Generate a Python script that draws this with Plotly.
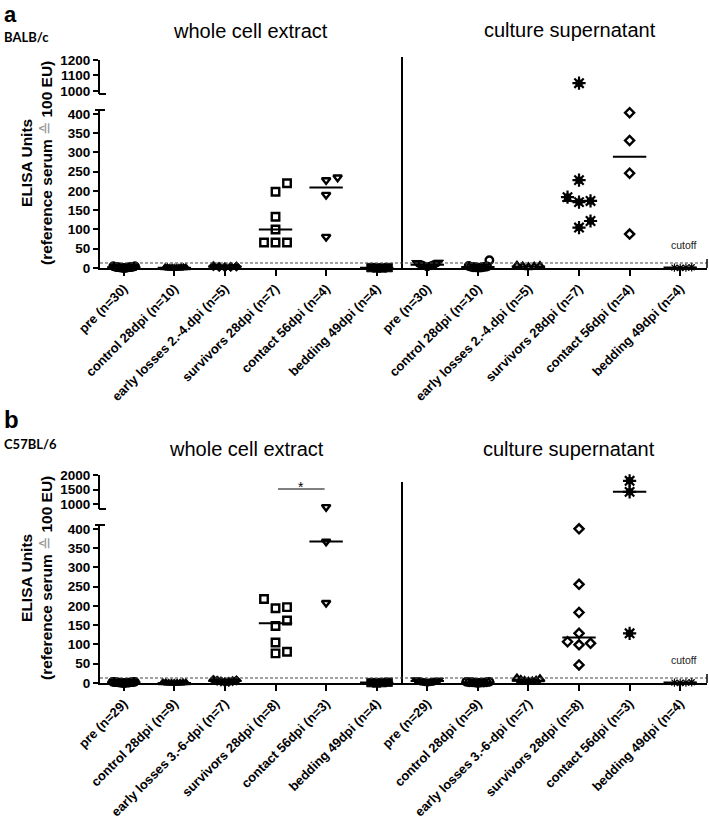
import numpy as np
import plotly.graph_objects as go

W, H = 709, 832

# ---------------- data ----------------
labels_a = ["pre (n=30)", "control 28dpi (n=10)", "early losses 2.-4.dpi (n=5)",
            "survivors 28dpi (n=7)", "contact 56dpi (n=4)", "bedding 49dpi (n=4)"]
labels_b = ["pre (n=29)", "control 28dpi (n=9)", "early losses 3.-6-dpi (n=7)",
            "survivors 28dpi (n=8)", "contact 56dpi (n=3)", "bedding 49dpi (n=4)"]

# Panel a (BALB/c) - whole cell extract
a_wce_pre = [2, 1, 3, 0, 4, 2, 1, 5, 3, 2, 0, 1, 4, 2, 3, 1, 4, 0, 2, 3, 1, 2, 5, 0, 3, 1, 2, 4, 1, 2]
a_wce_control = [0, 1, 0, 1, 1, 0, 1, 0, 1, 0]
a_wce_early = [3, 4, 2, 5, 3]
a_wce_survivors = [220, 198, 133, 100, 66, 66, 66]
a_wce_contact = [235, 228, 190, 81]
a_wce_bedding = [1, 0, 1, 0]
# Panel a (BALB/c) - culture supernatant
a_cs_pre = [8, 12, 5, 14, 3, 10, 7, 13, 6, 9, 11, 4, 15, 8, 2, 12, 6, 10, 13, 5, 9, 7, 14, 3, 11, 8, 6, 12, 4, 10]
a_cs_control = [20, 3, 2, 4, 1, 3, 2, 5, 1, 2]
a_cs_early = [6, 3, 5, 2, 4]
a_cs_survivors = [1050, 228, 184, 174, 171, 122, 105]
a_cs_contact = [403, 331, 246, 88]
a_cs_bedding = [1, 0, 2, 1]

# Panel b (C57BL/6) - whole cell extract
b_wce_pre = [2, 1, 3, 0, 2, 1, 3, 2, 0, 1, 2, 3, 1, 0, 2, 1, 3, 2, 1, 0, 2, 3, 1, 2, 0, 1, 3, 2, 1]
b_wce_control = [0, 1, 0, 1, 0, 1, 0, 1, 0]
b_wce_early = [5, 8, 3, 6, 2, 7, 4]
b_wce_survivors = [218, 197, 194, 162, 148, 105, 81, 77]
b_wce_contact = [900, 367, 208]
b_wce_bedding = [1, 2, 1, 0]
# Panel b (C57BL/6) - culture supernatant
b_cs_pre = [4, 6, 3, 7, 5, 2, 6, 4, 8, 3, 5, 7, 4, 6, 2, 5, 3, 6, 4, 7, 5, 3, 6, 4, 2, 5, 7, 3, 4]
b_cs_control = [2, 1, 3, 0, 2, 1, 3, 2, 1]
b_cs_early = [12, 8, 5, 3, 10, 6, 4]
b_cs_survivors = [400, 256, 183, 129, 107, 103, 99, 47]
b_cs_contact = [1800, 1420, 129]
b_cs_bedding = [1, 0, 2, 1]

cutoff = 13

groups_a = [a_wce_pre, a_wce_control, a_wce_early, a_wce_survivors, a_wce_contact, a_wce_bedding,
            a_cs_pre, a_cs_control, a_cs_early, a_cs_survivors, a_cs_contact, a_cs_bedding]
groups_b = [b_wce_pre, b_wce_control, b_wce_early, b_wce_survivors, b_wce_contact, b_wce_bedding,
            b_cs_pre, b_cs_control, b_cs_early, b_cs_survivors, b_cs_contact, b_cs_bedding]

# ---------------- styles ----------------
syms_a = ["circle", "triangle-up", "diamond", "square-open", "triangle-down-open", "square",
          "triangle-down", "circle-open", "triangle-up-open", "STAR", "diamond-open", "SMALLSTAR"]
syms_b = ["circle", "triangle-up", "diamond", "square-open", "triangle-down-open", "square",
          "triangle-down", "circle-open", "triangle-up-open", "diamond-open", "STAR", "SMALLSTAR"]
sizes = {"circle": 8.5, "triangle-up": 8.5, "diamond": 7.5, "square": 8.5, "triangle-down": 8.5,
         "square-open": 7.5, "triangle-down-open": 7.5, "circle-open": 7.5, "triangle-up-open": 7.5,
         "diamond-open": 7}

X0, X1 = 100, 707
XR = [-0.47, 11.53]
XS = (X1 - X0) / 12.0

panels = {
    "a": dict(zero=268, top=110, up_lo=94, up_hi=60, up_range=[980, 1200],
              up_ticks=[1000, 1100, 1200], xa="x", ylo="y", yhi="y2", groups=groups_a, syms=syms_a,
              labels=labels_a),
    "b": dict(zero=683, top=525, up_lo=509, up_hi=475, up_range=[830, 2000],
              up_ticks=[1000, 1500, 2000], xa="x2", ylo="y3", yhi="y4", groups=groups_b, syms=syms_b,
              labels=labels_b),
}
LOW_MAX = 410


def to_px(v, P):
    if v <= LOW_MAX:
        return P["zero"] - v * (P["zero"] - P["top"]) / LOW_MAX
    r0, r1 = P["up_range"]
    return P["up_lo"] - (v - r0) * (P["up_lo"] - P["up_hi"]) / (r1 - r0)


def swarm(pys, d=11.5, thr=10.0, cap=11.5):
    order = sorted(range(len(pys)), key=lambda i: -pys[i])
    placed, offs = [], [0.0] * len(pys)
    for i in order:
        k = 0
        found = None
        while found is None:
            cands = [0.0] if k == 0 else [k * d, -k * d]
            for c in cands:
                if all((c - px) ** 2 + (pys[i] - py) ** 2 >= thr ** 2 for px, py in placed):
                    found = c
                    break
            k += 1
        offs[i] = found
        placed.append((found, pys[i]))
    m = max(abs(o) for o in offs) if offs else 0
    if m > cap:
        offs = [o * cap / m for o in offs]
    return [o / XS for o in offs]


fig = go.Figure()


def add_markers(xs, ys, sym, xa, ya):
    common = dict(x=xs, y=ys, mode="markers", xaxis=xa, yaxis=ya, showlegend=False,
                  cliponaxis=False, hoverinfo="skip")
    if sym == "STAR":
        fig.add_trace(go.Scatter(**common, marker=dict(symbol="circle", size=7.5, color="black",
                                                       line=dict(width=0))))
        fig.add_trace(go.Scatter(**common, marker=dict(symbol="asterisk-open", size=11, color="black",
                                                       line=dict(width=2.2, color="black"))))
    elif sym == "SMALLSTAR":
        fig.add_trace(go.Scatter(**common, marker=dict(symbol="asterisk-open", size=7, color="black",
                                                       line=dict(width=1.2, color="black"))))
    elif sym.endswith("-open"):
        fig.add_trace(go.Scatter(**common, marker=dict(symbol=sym, size=sizes[sym], color="black",
                                                       line=dict(width=2.4, color="black"))))
    else:
        fig.add_trace(go.Scatter(**common, marker=dict(symbol=sym, size=sizes[sym], color="black",
                                                       line=dict(width=0.8, color="black"))))


for key, P in panels.items():
    for ci, vals in enumerate(P["groups"]):
        pys = [to_px(v, P) for v in vals]
        offs = swarm(pys, d=9.0 if P["syms"][ci] == "SMALLSTAR" else 11.5)
        lo_x, lo_y, hi_x, hi_y = [], [], [], []
        for v, o in zip(vals, offs):
            if v <= LOW_MAX:
                lo_x.append(ci + o); lo_y.append(v)
            else:
                hi_x.append(ci + o); hi_y.append(v)
        if lo_x:
            add_markers(lo_x, lo_y, P["syms"][ci], P["xa"], P["ylo"])
        if hi_x:
            add_markers(hi_x, hi_y, P["syms"][ci], P["xa"], P["yhi"])
    # median lines
    for ci, vals in enumerate(P["groups"]):
        med = float(np.median(vals))
        ya = P["ylo"] if med <= LOW_MAX else P["yhi"]
        fig.add_trace(go.Scatter(x=[ci - 0.33, ci + 0.33], y=[med, med], mode="lines",
                                 xaxis=P["xa"], yaxis=ya, showlegend=False, cliponaxis=False,
                                 hoverinfo="skip", line=dict(color="black", width=2)))


def py(p):
    return 1 - p / H


def pxx(p):
    return p / W


FONT = "Liberation Sans, Arial, sans-serif"
tickfont = dict(family=FONT, size=13.5, color="black", weight="bold")
axbase = dict(showline=True, linewidth=2, linecolor="black", ticks="outside", tickwidth=2,
              tickcolor="black", showgrid=False, zeroline=False, fixedrange=True, automargin=False)

layout = dict(template="none", width=W, height=H, margin=dict(l=0, r=0, t=0, b=0, pad=0),
              paper_bgcolor="white", plot_bgcolor="white", showlegend=False,
              font=dict(family=FONT, color="black"))

shapes, annotations = [], []
for key, P in panels.items():
    xname = "xaxis" if P["xa"] == "x" else "xaxis2"
    loname = "yaxis" if P["ylo"] == "y" else "yaxis3"
    hiname = "yaxis2" if P["yhi"] == "y2" else "yaxis4"
    layout[xname] = dict(axbase, domain=[pxx(X0), pxx(X1)], range=XR, anchor=P["ylo"],
                         tickmode="array", tickvals=list(range(12)), ticktext=P["labels"] * 2,
                         tickangle=-45, ticklen=6,
                         tickfont=dict(family=FONT, size=13, color="black", weight="bold"))
    layout[loname] = dict(axbase, domain=[py(P["zero"]), py(P["top"])], range=[0, LOW_MAX],
                          anchor=P["xa"], tickmode="array", tickvals=list(range(0, 401, 50)),
                          ticktext=[str(t) for t in range(0, 401, 50)], ticklen=5, tickfont=tickfont)
    layout[hiname] = dict(axbase, domain=[py(P["up_lo"]), py(P["up_hi"])], range=P["up_range"],
                          anchor=P["xa"], tickmode="array", tickvals=P["up_ticks"],
                          ticktext=[str(t) for t in P["up_ticks"]], ticklen=5, tickfont=tickfont)
    # axis break caps
    shapes.append(dict(type="line", xref="paper", yref="paper", x0=pxx(X0 - 5), x1=pxx(X0 + 5),
                       y0=py(P["top"]), y1=py(P["top"]), line=dict(color="black", width=2)))
    shapes.append(dict(type="line", xref="paper", yref="paper", x0=pxx(X0 - 1), x1=pxx(X0 + 6),
                       y0=py(P["up_lo"]), y1=py(P["up_lo"]), line=dict(color="black", width=2)))
    # divider between the two halves
    div_top = 57 if key == "a" else 482
    shapes.append(dict(type="line", xref=P["xa"], yref="paper", x0=5.5, x1=5.5,
                       y0=py(P["zero"]), y1=py(div_top), line=dict(color="black", width=2)))
    # cutoff dashed line
    shapes.append(dict(type="line", xref="paper", yref=P["ylo"], x0=pxx(X0), x1=pxx(X1),
                       y0=cutoff, y1=cutoff, line=dict(color="#444", width=1, dash="3px,2px")))
    # right end tick
    shapes.append(dict(type="line", xref="paper", yref="paper", x0=pxx(X1), x1=pxx(X1),
                       y0=py(P["zero"]), y1=py(P["zero"] - 9), line=dict(color="black", width=1.5)))
    annotations.append(dict(text="cutoff", xref="paper", yref="paper", x=pxx(699),
                            y=py(P["zero"] - 23), showarrow=False, xanchor="right", yanchor="middle",
                            font=dict(family=FONT, size=10.5, color="#222")))
    # y axis title
    annotations.append(dict(text="<b>ELISA Units</b><br><b>(reference serum </b>"
                                 "<span style='color:#999'>≙</span><b> 100 EU)</b>",
                            xref="paper", yref="paper", x=pxx(36), y=py(P["zero"] - 105),
                            textangle=-90, showarrow=False, xanchor="center", yanchor="middle",
                            font=dict(family=FONT, size=15.5, color="black")))

# titles
tit = dict(showarrow=False, xref="paper", yref="paper", xanchor="center", yanchor="middle",
           font=dict(family=FONT, size=20, color="black"))
annotations += [
    dict(tit, text="whole cell extract", x=pxx(250), y=py(31)),
    dict(tit, text="culture supernatant", x=pxx(570), y=py(30)),
    dict(tit, text="whole cell extract", x=pxx(246), y=py(449)),
    dict(tit, text="culture supernatant", x=pxx(569), y=py(449)),
    dict(text="<b>a</b>", x=pxx(2), y=py(0), xref="paper", yref="paper", showarrow=False,
         xanchor="left", yanchor="top", font=dict(family=FONT, size=22, color="black")),
    dict(text="<b>b</b>", x=pxx(2), y=py(419), xref="paper", yref="paper", showarrow=False,
         xanchor="left", yanchor="middle", font=dict(family=FONT, size=24, color="black")),
    dict(text="<b>BALB/c</b>", x=pxx(2), y=py(37), xref="paper", yref="paper", showarrow=False,
         xanchor="left", yanchor="middle", font=dict(family="Lato, sans-serif", size=13, color="black")),
    dict(text="<b>C57BL/6</b>", x=pxx(2), y=py(444), xref="paper", yref="paper", showarrow=False,
         xanchor="left", yanchor="middle", font=dict(family="Lato, sans-serif", size=13, color="black")),
    dict(text="*", x=3.5, xref="x2", y=py(487), yref="paper", showarrow=False,
         xanchor="center", yanchor="middle", font=dict(family=FONT, size=14, color="black")),
]
# significance bar (panel b)
shapes.append(dict(type="line", xref="x2", yref="paper", x0=3.05, x1=3.97, y0=py(489), y1=py(489),
                   line=dict(color="black", width=1.2)))

layout["shapes"] = shapes
layout["annotations"] = annotations
fig.update_layout(**layout)
fig.write_html("out.html", config={"displayModeBar": False},
               post_script="document.body.style.margin='0px';")
